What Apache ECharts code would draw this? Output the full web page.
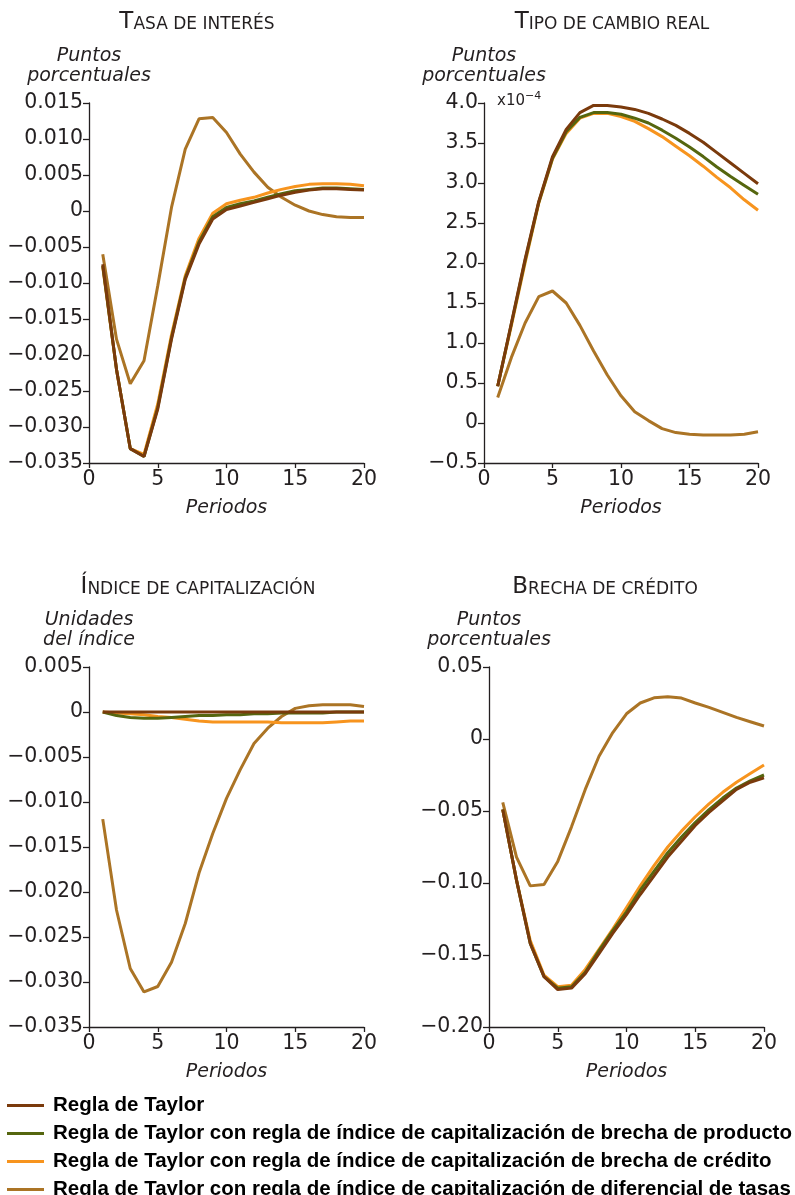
<!DOCTYPE html>
<html><head><meta charset="utf-8">
<script src="https://cdn.jsdelivr.net/npm/echarts@6/dist/echarts.min.js"></script>
<style>html,body{margin:0;padding:0;background:#fff}#c{width:795px;height:1195px}</style>
</head><body><div id="c"></div>
<script>
const periods = [1,2,3,4,5,6,7,8,9,10,11,12,13,14,15,16,17,18,19,20];
const seriesNames = [
  'Regla de Taylor',
  'Regla de Taylor con regla de índice de capitalización de brecha de producto',
  'Regla de Taylor con regla de índice de capitalización de brecha de crédito',
  'Regla de Taylor con regla de índice de capitalización de diferencial de tasas'
];
const seriesColors = ['#7a3a0c', '#55660f', '#f7941e', '#ab7425'];

// Tasa de interés
const tasaTaylor  = [-0.0074,-0.0220,-0.0330,-0.0341,-0.0275,-0.0178,-0.0095,-0.0046,-0.0011,0.0002,0.0007,0.0012,0.0017,0.0022,0.0026,0.0029,0.0031,0.0031,0.0030,0.0029];
const tasaProd    = [-0.0076,-0.0220,-0.0330,-0.0341,-0.0273,-0.0176,-0.0093,-0.0043,-0.0008,0.0005,0.0010,0.0014,0.0019,0.0024,0.0028,0.0030,0.0032,0.0032,0.0031,0.0030];
const tasaCred    = [-0.0078,-0.0220,-0.0330,-0.0338,-0.0268,-0.0172,-0.0090,-0.0038,-0.0003,0.0010,0.0015,0.0019,0.0025,0.0030,0.0034,0.0037,0.0038,0.0038,0.0037,0.0035];
const tasaDif     = [-0.0060,-0.0178,-0.0240,-0.0208,-0.0104,0.0005,0.0086,0.0128,0.0130,0.0109,0.0079,0.0054,0.0033,0.0019,0.0008,0.0000,-0.0005,-0.0008,-0.0009,-0.0009];

// Tipo de cambio real (x10^-4)
const tcrTaylor = [0.46,1.25,2.05,2.77,3.33,3.67,3.88,3.97,3.97,3.95,3.92,3.87,3.80,3.72,3.62,3.51,3.38,3.25,3.12,2.99];
const tcrProd   = [0.46,1.24,2.03,2.76,3.31,3.64,3.82,3.88,3.88,3.86,3.81,3.75,3.66,3.56,3.45,3.33,3.20,3.08,2.97,2.86];
const tcrCred   = [0.46,1.22,2.00,2.75,3.30,3.62,3.81,3.87,3.87,3.83,3.77,3.68,3.58,3.46,3.34,3.21,3.07,2.94,2.79,2.66];
const tcrDif    = [0.32,0.82,1.25,1.58,1.65,1.50,1.22,0.90,0.60,0.34,0.14,0.03,-0.07,-0.12,-0.14,-0.15,-0.15,-0.15,-0.14,-0.11];

// Índice de capitalización
const icTaylor = [0,0,0,0,0,0,0,0,0,0,0,0,0,0,0,0,0,0,0,0];
const icProd   = [0,-0.0004,-0.0006,-0.0007,-0.0007,-0.0006,-0.0005,-0.0004,-0.0004,-0.0003,-0.0003,-0.0002,-0.0002,-0.0001,-0.0001,-0.0001,-0.0001,0,0,0];
const icCred   = [0,-0.0001,-0.0002,-0.0003,-0.0005,-0.0006,-0.0008,-0.0010,-0.0011,-0.0011,-0.0011,-0.0011,-0.0011,-0.0012,-0.0012,-0.0012,-0.0012,-0.0011,-0.0010,-0.0010];
const icDif    = [-0.0119,-0.0220,-0.0285,-0.0311,-0.0305,-0.0278,-0.0235,-0.0179,-0.0135,-0.0096,-0.0064,-0.0035,-0.0018,-0.0005,0.0004,0.0007,0.0008,0.0008,0.0008,0.0006];

// Brecha de crédito
const bcTaylor = [-0.049,-0.098,-0.142,-0.165,-0.174,-0.173,-0.163,-0.149,-0.135,-0.122,-0.108,-0.095,-0.082,-0.071,-0.060,-0.051,-0.043,-0.035,-0.030,-0.027];
const bcProd   = [-0.049,-0.098,-0.142,-0.165,-0.173,-0.172,-0.162,-0.147,-0.133,-0.120,-0.105,-0.092,-0.079,-0.068,-0.058,-0.049,-0.041,-0.034,-0.029,-0.025];
const bcCred   = [-0.049,-0.098,-0.140,-0.164,-0.172,-0.171,-0.160,-0.146,-0.132,-0.117,-0.102,-0.088,-0.075,-0.064,-0.054,-0.045,-0.037,-0.030,-0.024,-0.018];
const bcDif    = [-0.044,-0.082,-0.102,-0.101,-0.085,-0.061,-0.035,-0.012,0.0045,0.0175,0.025,0.0286,0.0293,0.0284,0.025,0.022,0.0185,0.015,0.012,0.009];

const panelData = [
  [tasaTaylor, tasaProd, tasaCred, tasaDif],
  [tcrTaylor, tcrProd, tcrCred, tcrDif],
  [icTaylor, icProd, icCred, icDif],
  [bcTaylor, bcProd, bcCred, bcDif]
];
const yMin = [-0.035, -0.5, -0.035, -0.20];
const yMax = [0.015, 4.0, 0.005, 0.05];
const yStep = [0.005, 0.5, 0.005, 0.05];
const yDec = [3, 1, 3, 2];
const yNames = ['Puntos\nporcentuales', 'Puntos\nporcentuales', 'Unidades\ndel índice', 'Puntos\nporcentuales'];

const grids = [
  {left: 89, top: 103, width: 275, height: 360},
  {left: 484, top: 103, width: 274, height: 360},
  {left: 89, top: 667, width: 275, height: 360},
  {left: 489, top: 667, width: 275, height: 360}
];

const ink = '#231f20';
const tickFont = 'DejaVu Sans';

function fmt(dec) {
  return function (v) {
    if (Math.abs(v) < 1e-9) return '0';
    return (v < 0 ? '\u2212' : '') + Math.abs(v).toFixed(dec);
  };
}

const xAxes = grids.map((g, i) => ({
  type: 'value', gridIndex: i, min: 0, max: 20, interval: 5,
  name: 'Periodos', nameLocation: 'middle', nameGap: 36,
  nameTextStyle: {fontFamily: tickFont, fontStyle: 'italic', fontSize: 19, color: ink},
  axisLine: {show: true, onZero: false, lineStyle: {color: ink, width: 1.3}},
  axisTick: {show: true, length: 5, lineStyle: {color: ink, width: 1.3}},
  axisLabel: {fontFamily: tickFont, fontSize: 20.5, color: ink, margin: 6},
  splitLine: {show: false}
}));

const yAxes = grids.map((g, i) => ({
  type: 'value', gridIndex: i, min: yMin[i], max: yMax[i], interval: yStep[i],
  name: yNames[i], nameLocation: 'end', nameGap: 17,
  nameTextStyle: {fontFamily: tickFont, fontStyle: 'italic', fontSize: 19, lineHeight: 20, color: ink, align: 'center'},
  axisLine: {show: true, onZero: false, lineStyle: {color: ink, width: 1.3}},
  axisTick: {show: true, length: 6, lineStyle: {color: ink, width: 1.3}},
  axisLabel: {fontFamily: tickFont, fontSize: 20.5, color: ink, margin: 6, formatter: fmt(yDec[i])},
  splitLine: {show: false}
}));

const series = [];
const drawOrder = [3, 2, 1, 0];
panelData.forEach((arrs, p) => {
  drawOrder.forEach((k, n) => {
    series.push({
      type: 'line', name: seriesNames[k], xAxisIndex: p, yAxisIndex: p,
      data: periods.map((t, j) => [t, arrs[k][j]]),
      showSymbol: false, symbol: 'none',
      lineStyle: {width: 3, color: seriesColors[k]},
      itemStyle: {color: seriesColors[k]},
      z: 2 + n
    });
  });
});

function scTitle(big, small, x, y) {
  return {
    text: '{b|' + big + '}{s|' + small + '}',
    left: x, top: y, textAlign: 'center',
    textStyle: {
      fontWeight: 'normal',
      rich: {
        b: {fontFamily: tickFont, fontWeight: 'normal', fontSize: 23, color: ink, lineHeight: 26, verticalAlign: 'bottom'},
        s: {fontFamily: tickFont, fontWeight: 'normal', fontSize: 17, color: ink, lineHeight: 26, verticalAlign: 'bottom', padding: [0, 0, 1, 0]}
      }
    }
  };
}

const titles = [
  scTitle('T', 'ASA DE INTERÉS', 192, 3),
  scTitle('T', 'IPO DE CAMBIO REAL', 607, 3),
  scTitle('Í', 'NDICE DE CAPITALIZACIÓN', 193, 568),
  scTitle('B', 'RECHA DE CRÉDITO', 600, 568),
  {
    text: '{n|x10}{sup|\u22124}', left: 492, top: 86,
    textStyle: {
      fontWeight: 'normal',
      rich: {
        n: {fontFamily: tickFont, fontWeight: 'normal', fontSize: 15, color: ink, lineHeight: 18, verticalAlign: 'bottom'},
        sup: {fontFamily: tickFont, fontWeight: 'normal', fontSize: 11, color: ink, lineHeight: 18, verticalAlign: 'top'}
      }
    }
  }
];

const chart = echarts.init(document.getElementById('c'), null, {renderer: 'canvas'});
chart.setOption({
  animation: false,
  backgroundColor: '#ffffff',
  title: titles,
  grid: grids,
  xAxis: xAxes,
  yAxis: yAxes,
  legend: {
    orient: 'vertical', left: 7, top: 1095, height: 115, padding: 0,
    itemWidth: 37, itemHeight: 3, itemGap: 7, icon: 'rect',
    selectedMode: false,
    data: seriesNames,
    textStyle: {fontFamily: 'Liberation Sans, Arial, sans-serif', fontWeight: 'bold', fontSize: 20.5, lineHeight: 20, color: '#000', padding: [0, 0, 0, 4]}
  },
  series: series
});
</script>
</body></html>
